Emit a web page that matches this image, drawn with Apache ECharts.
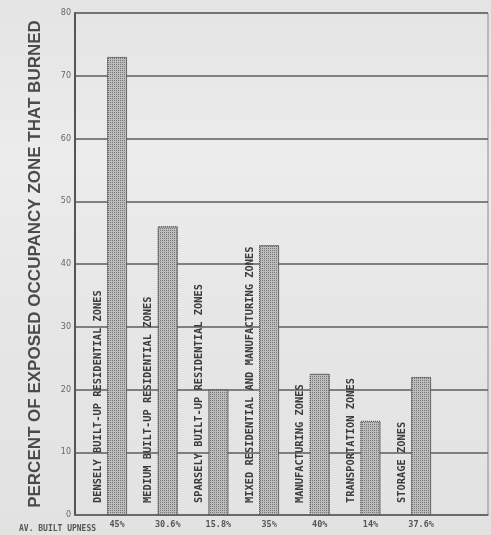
<!DOCTYPE html>
<html>
<head>
<meta charset="utf-8">
<script src="https://cdn.jsdelivr.net/npm/echarts@6/dist/echarts.min.js"></script>
<style>
html,body{margin:0;padding:0;background:#e3e3e3;}
#c{width:491px;height:535px;}
</style>
</head>
<body>
<div id="c"></div>
<script>
// ---- data ----
var zones = [
  'DENSELY BUILT-UP RESIDENTIAL ZONES',
  'MEDIUM BUILT-UP RESIDENTIAL ZONES',
  'SPARSELY BUILT-UP RESIDENTIAL ZONES',
  'MIXED RESIDENTIAL AND MANUFACTURING ZONES',
  'MANUFACTURING ZONES',
  'TRANSPORTATION ZONES',
  'STORAGE ZONES'
];
var burned = [73, 46, 20, 43, 22.5, 15, 22];
var builtUpness = ['45%', '30.6%', '15.8%', '35%', '40%', '14%', '37.6%'];
var yTicks = [0, 10, 20, 30, 40, 50, 60, 70, 80];
var yTitle = 'PERCENT OF EXPOSED OCCUPANCY ZONE THAT BURNED';
var rowTitle = 'AV. BUILT UPNESS';

var chart = echarts.init(document.getElementById('c'));
var idx = zones.map(function (z, i) { return i; });

chart.setOption({
  backgroundColor: {
    type: 'linear', x: 0, y: 0, x2: 0, y2: 1,
    colorStops: [
      {offset: 0, color: '#e4e4e4'},
      {offset: 0.3, color: '#ececec'},
      {offset: 0.6, color: '#e6e6e6'},
      {offset: 1, color: '#e2e2e2'}
    ]
  },
  animation: false,
  aria: {enabled: true, decal: {show: true}},
  title: {
    text: rowTitle,
    left: 14, top: 520,
    textStyle: {fontFamily: 'DejaVu Sans Mono', fontSize: 8, fontWeight: 'bold', color: '#555'}
  },
  grid: {
    left: 75, right: 3, top: 13, bottom: 20,
    show: true, borderColor: '#8a8a8a', borderWidth: 1, backgroundColor: 'transparent'
  },
  xAxis: {
    type: 'value',
    min: -0.83, max: 7.32,
    splitLine: {show: false},
    axisLine: {show: true, onZero: false, lineStyle: {color: '#666', width: 1.5}},
    axisTick: {show: false},
    axisLabel: {
      customValues: idx,
      margin: 5,
      fontFamily: 'DejaVu Sans Mono', fontSize: 8.5, fontWeight: 'bold', color: '#555',
      formatter: function (v) { return builtUpness[Math.round(v)] || ''; }
    }
  },
  yAxis: {
    type: 'value',
    min: 0, max: 80, interval: 10,
    name: yTitle,
    nameLocation: 'middle',
    nameGap: 31,
    nameTextStyle: {fontFamily: 'Liberation Sans', fontSize: 17, fontWeight: 'bold', color: '#4a4a4a'},
    axisLine: {show: true, onZero: false, lineStyle: {color: '#555', width: 2}},
    axisTick: {show: false},
    axisLabel: {
      margin: 4, fontFamily: 'DejaVu Sans', fontSize: 8, color: '#666',
      customValues: yTicks
    },
    splitLine: {lineStyle: {color: '#5e5e5e', width: 1.6}}
  },
  series: [{
    type: 'bar',
    barWidth: 20,
    data: burned.map(function (v, i) { return [i, v]; }),
    itemStyle: {
      color: '#bdbdbd',
      borderColor: '#555',
      borderWidth: 1,
      borderType: 'dotted',
      decal: {
        symbol: 'rect',
        symbolSize: 1,
        color: 'rgba(70,70,70,0.6)',
        dashArrayX: [1, 1],
        dashArrayY: [1, 1],
        rotation: 0
      }
    },
    label: {
      show: true,
      position: ['-45%', '100%'],
      rotate: 90,
      align: 'left',
      verticalAlign: 'middle',
      padding: [0, 0, 0, 12],
      fontFamily: 'DejaVu Sans Mono',
      fontSize: 10.4,
      fontWeight: 'bold',
      color: '#3c3c3c',
      formatter: function (p) { return zones[p.dataIndex]; }
    }
  }]
});
</script>
</body>
</html>
